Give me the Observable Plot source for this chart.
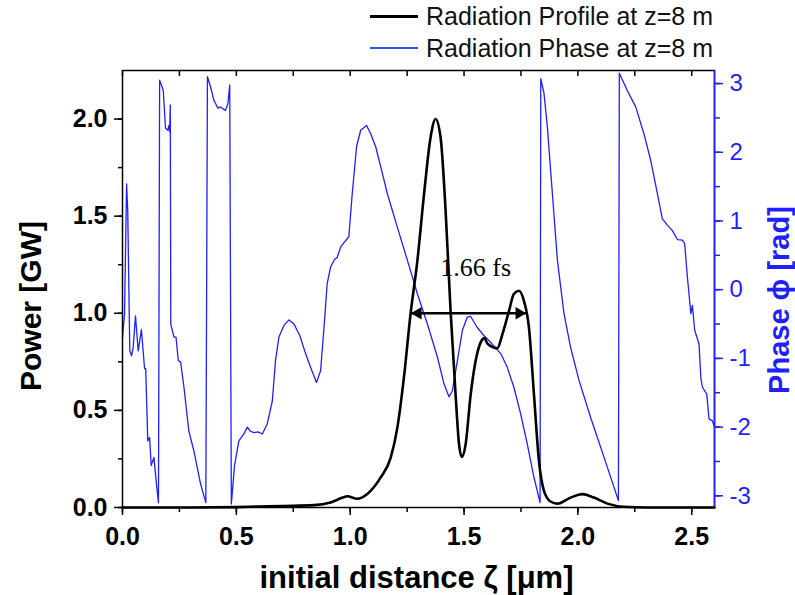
<!DOCTYPE html>
<html>
<head>
<meta charset="utf-8">
<script src="https://cdn.jsdelivr.net/npm/d3@7"></script>
<script src="https://cdn.jsdelivr.net/npm/@observablehq/plot@0.6"></script>
<style>
  html, body { margin: 0; padding: 0; background: #fff; }
  #wrap { position: relative; width: 795px; height: 595px; font-family: "Liberation Sans", Arial, sans-serif; }
  #legend { position: absolute; left: 0; top: 0; width: 795px; height: 64px; }
  .lg { position: absolute; left: 426px; font-size: 25px; color: #111; line-height: 30px; white-space: nowrap; }
  .ls { position: absolute; left: 370px; width: 48px; }
</style>
</head>
<body>
<div id="wrap">
  <div id="chart"></div>
  <div id="legend">
    <div class="ls" style="top:15px; height:2.5px; background:#000;"></div>
    <div class="lg" style="top:1px;">Radiation Profile at z=8 m</div>
    <div class="ls" style="top:47px; height:1.5px; background:#3a4cff;"></div>
    <div class="lg" style="top:33px;">Radiation Phase at z=8 m</div>
  </div>
</div>
<script>
// ---- data ----
const profileX = [0, 0.3, 0.5, 0.6, 0.7, 0.84, 0.914, 0.965, 0.987, 1.031, 1.075, 1.134, 1.178, 1.207, 1.236, 1.265, 1.295, 1.324, 1.353, 1.375, 1.397, 1.419, 1.441, 1.463, 1.478, 1.49, 1.507, 1.529, 1.551, 1.573, 1.59, 1.602, 1.631, 1.646, 1.668, 1.697, 1.719, 1.741, 1.763, 1.785, 1.807, 1.829, 1.851, 1.88, 1.91, 1.968, 2.02, 2.07, 2.13, 2.2, 2.3, 2.6];
const profileP = [0, 0, 0.002, 0.005, 0.008, 0.012, 0.026, 0.05, 0.058, 0.045, 0.07, 0.155, 0.257, 0.41, 0.67, 0.996, 1.27, 1.61, 1.905, 2.0, 1.905, 1.53, 1.01, 0.58, 0.326, 0.26, 0.326, 0.58, 0.755, 0.85, 0.872, 0.845, 0.824, 0.82, 0.89, 1.01, 1.10, 1.116, 1.064, 0.927, 0.584, 0.24, 0.086, 0.031, 0.02, 0.051, 0.069, 0.051, 0.02, 0.004, 0, 0];

const phaseX = [0, 0.009, 0.018, 0.023, 0.032, 0.04, 0.047, 0.057, 0.069, 0.083, 0.097, 0.102, 0.111, 0.119, 0.126, 0.138, 0.149, 0.158, 0.163, 0.174, 0.179, 0.189, 0.199, 0.204, 0.207, 0.21, 0.212, 0.226, 0.235, 0.245, 0.255, 0.27, 0.291, 0.313, 0.343, 0.366, 0.373, 0.387, 0.401, 0.419, 0.43, 0.452, 0.463, 0.471, 0.478, 0.492, 0.511, 0.533, 0.548, 0.562, 0.577, 0.595, 0.614, 0.636, 0.658, 0.672, 0.687, 0.709, 0.731, 0.753, 0.779, 0.804, 0.826, 0.852, 0.87, 0.885, 0.899, 0.914, 0.931, 0.943, 0.958, 0.972, 0.994, 1.009, 1.028, 1.046, 1.072, 1.09, 1.112, 1.134, 1.163, 1.207, 1.251, 1.295, 1.339, 1.383, 1.412, 1.434, 1.449, 1.471, 1.493, 1.514, 1.529, 1.558, 1.588, 1.609, 1.661, 1.69, 1.719, 1.749, 1.778, 1.807, 1.834, 1.837, 1.851, 1.866, 1.888, 1.91, 1.939, 1.968, 2.005, 2.056, 2.115, 2.178, 2.182, 2.217, 2.254, 2.29, 2.32, 2.349, 2.371, 2.393, 2.415, 2.437, 2.459, 2.469, 2.481, 2.488, 2.496, 2.503, 2.513, 2.532, 2.54, 2.547, 2.566, 2.576, 2.591, 2.598];
const phaseV = [-0.69, -0.35, 1.54, 1.15, -0.89, -0.96, -0.84, -0.38, -0.89, -0.58, -1.15, -1.15, -2.2, -2.15, -2.56, -2.44, -2.83, -3.10, 3.05, 2.95, 2.90, 2.35, 2.32, 2.39, 2.30, 2.69, -0.5, -0.69, -0.69, -1.03, -1.05, -1.42, -2.05, -2.34, -2.83, -3.10, 3.10, 2.95, 2.76, 2.64, 2.66, 2.61, 2.71, 2.98, -3.12, -2.56, -2.2, -2.10, -2.0, -2.06, -2.08, -2.07, -2.10, -1.95, -1.62, -1.03, -0.69, -0.52, -0.44, -0.50, -0.67, -0.93, -1.13, -1.35, -1.18, -0.55, 0.09, 0.33, 0.44, 0.47, 0.62, 0.68, 0.77, 1.40, 2.08, 2.32, 2.39, 2.27, 2.08, 1.79, 1.40, 0.91, 0.43, -0.06, -0.50, -0.98, -1.37, -1.56, -1.47, -1.03, -0.59, -0.40, -0.39, -0.55, -0.67, -0.74, -0.93, -1.13, -1.42, -1.81, -2.25, -2.73, -3.10, 3.07, 2.86, 2.37, 1.40, 0.43, -0.35, -0.84, -1.32, -1.86, -2.44, -3.07, 3.15, 2.90, 2.66, 2.27, 1.88, 1.40, 1.03, 0.94, 0.86, 0.73, 0.72, 0.67, 0.18, -0.06, -0.35, -0.23, -0.59, -0.79, -1.28, -1.42, -1.52, -1.88, -1.91, -1.98];

const xDomain = [0, 2.6];
const powerDomain = [0, 2.25];
const phaseDomain = [-3.17, 3.19];
const xTicks = [0, 0.5, 1.0, 1.5, 2.0, 2.5];
const xMinorTicks = [0, 0.25, 0.5, 0.75, 1.0, 1.25, 1.5, 1.75, 2.0, 2.25, 2.5];
const powerTicks = [0, 0.5, 1.0, 1.5, 2.0];
const powerMinorTicks = [0, 0.25, 0.5, 0.75, 1.0, 1.25, 1.5, 1.75, 2.0];
const phaseTicks = [-3, -2, -1, 0, 1, 2, 3];
const phaseMinorTicks = [-3, -2.5, -2, -1.5, -1, -0.5, 0, 0.5, 1, 1.5, 2, 2.5, 3];

const legendLabels = ["Radiation Profile at z=8 m", "Radiation Phase at z=8 m"];
const xTitle = "initial distance ζ [μm]";
const yTitle = "Power [GW]";
const y2Title = "Phase ϕ [rad]";
const fwhmLabel = "1.66 fs";
const fwhmStart = 1.265, fwhmEnd = 1.775, fwhmLevel = 1.0;
const fwhmTextX = 1.551, fwhmTextY = 1.235;

// ---- build ----
const BLUE = "#1f1fff";
const toY = p => (p - phaseDomain[0]) / (phaseDomain[1] - phaseDomain[0]) * (powerDomain[1] - powerDomain[0]) + powerDomain[0];
const fromY = y => (y - powerDomain[0]) / (powerDomain[1] - powerDomain[0]) * (phaseDomain[1] - phaseDomain[0]) + phaseDomain[0];

const profile = profileX.map((x, i) => ({x, p: profileP[i]}));
const phase = phaseX.map((x, i) => ({x, y: toY(phaseV[i])}));
const blank = () => "";
const f1 = d3.format(".1f");

const chart = Plot.plot({
  width: 795, height: 595,
  marginLeft: 122, marginRight: 81, marginTop: 70, marginBottom: 88,
  x: {domain: xDomain},
  y: {domain: powerDomain},
  style: {fontFamily: "'Liberation Sans', Arial, sans-serif", background: "white", color: "black"},
  marks: [
    Plot.line(phase, {x: "x", y: "y", stroke: BLUE, strokeWidth: 1.3}),
    Plot.line(profile, {x: "x", y: "p", stroke: "black", strokeWidth: 2.6, curve: "monotone-x"}),
    // FWHM arrow
    Plot.link([{x1: fwhmStart, x2: fwhmEnd, y: fwhmLevel}], {x1: "x1", x2: "x2", y1: "y", y2: "y", stroke: "black", strokeWidth: 2.5}),
    Plot.dot([{x: fwhmStart, y: fwhmLevel}], {x: "x", y: "y", symbol: "triangle", r: 4.6, rotate: -90, fill: "black", stroke: "none", dx: 7.5}),
    Plot.dot([{x: fwhmEnd, y: fwhmLevel}], {x: "x", y: "y", symbol: "triangle", r: 4.6, rotate: 90, fill: "black", stroke: "none", dx: -7.5}),
    Plot.text([fwhmLabel], {x: fwhmTextX, y: fwhmTextY, text: d => d, fontFamily: "'Liberation Serif', 'Times New Roman', serif", fontSize: 26, fill: "black"}),
    // frame
    Plot.frame({stroke: "black", strokeWidth: 1.5}),
    Plot.ruleX([xDomain[1]], {stroke: BLUE, strokeWidth: 1.5}),
    // bottom axis
    Plot.axisX({ticks: xTicks, tickSize: 8, tickPadding: 12, tickFormat: f1, fontSize: 25, fontWeight: "bold", strokeWidth: 1.5, label: null}),
    Plot.axisX({ticks: xMinorTicks, tickSize: 5, tickFormat: blank, strokeWidth: 1.5, label: null}),
    // top inward ticks
    Plot.axisX({anchor: "top", ticks: xMinorTicks, tickSize: 5, dy: 5, tickFormat: blank, strokeWidth: 1.5, label: null}),
    // left axis
    Plot.axisY({ticks: powerTicks, tickSize: 8, tickPadding: 7, tickFormat: f1, fontSize: 25, fontWeight: "bold", strokeWidth: 1.5, label: null}),
    Plot.axisY({ticks: powerMinorTicks, tickSize: 4, tickFormat: blank, strokeWidth: 1.5, label: null}),
    // right axis (phase)
    Plot.axisY({anchor: "right", ticks: phaseTicks.map(toY), tickSize: 8, tickPadding: 7, tickFormat: d => String(Math.round(fromY(d))), fontSize: 24, color: BLUE, stroke: BLUE, fill: BLUE, strokeWidth: 1.5, label: null}),
    Plot.axisY({anchor: "right", ticks: phaseMinorTicks.map(toY), tickSize: 5, tickFormat: blank, color: BLUE, stroke: BLUE, strokeWidth: 1.5, label: null}),
    // axis titles
    Plot.text([yTitle], {frameAnchor: "left", text: d => d, textAnchor: "middle", lineAnchor: "middle", dx: -91, dy: 17, rotate: -90, fontSize: 30, fontWeight: "bold", fill: "black"}),
    Plot.text([y2Title], {frameAnchor: "right", text: d => d, textAnchor: "middle", lineAnchor: "middle", dx: 65, dy: 11, rotate: -90, fontSize: 29, fontWeight: "bold", fill: BLUE}),
    Plot.text([xTitle], {frameAnchor: "bottom", text: d => d, textAnchor: "middle", lineAnchor: "middle", dx: -2, dy: 71, fontSize: 31, fontWeight: "bold", fill: "black"})
  ]
});
document.getElementById("chart").appendChild(chart);
</script>
</body>
</html>
